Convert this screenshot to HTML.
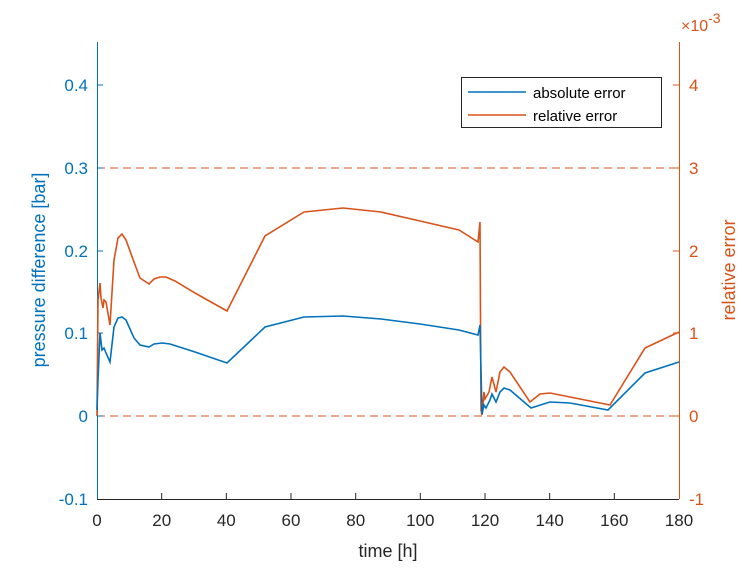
<!DOCTYPE html><html><head><style>body{margin:0;background:#fff}</style></head><body>
<svg width="751" height="564" xmlns="http://www.w3.org/2000/svg" font-family="Liberation Sans, sans-serif">
<rect width="751" height="564" fill="#fff"/>
<line x1="97" y1="168" x2="679" y2="168" stroke="#D95319" stroke-dasharray="8,5"/>
<line x1="97" y1="416" x2="679" y2="416" stroke="#D95319" stroke-dasharray="8,5"/>
<line x1="97" y1="499.5" x2="679" y2="499.5" stroke="#262626"/>
<line x1="97.5" y1="42" x2="97.5" y2="499" stroke="#0072BD"/>
<line x1="679.5" y1="42" x2="679.5" y2="499" stroke="#D95319"/>
<g stroke="#0072BD"><line x1="97" y1="85" x2="103" y2="85"/><line x1="97" y1="168" x2="103" y2="168"/><line x1="97" y1="251" x2="103" y2="251"/><line x1="97" y1="333" x2="103" y2="333"/><line x1="97" y1="416" x2="103" y2="416"/></g>
<g stroke="#D95319"><line x1="673" y1="85" x2="679" y2="85"/><line x1="673" y1="168" x2="679" y2="168"/><line x1="673" y1="251" x2="679" y2="251"/><line x1="673" y1="333" x2="679" y2="333"/><line x1="673" y1="416" x2="679" y2="416"/></g>
<g stroke="#262626"><line x1="161.7" y1="499" x2="161.7" y2="493"/><line x1="226.3" y1="499" x2="226.3" y2="493"/><line x1="291" y1="499" x2="291" y2="493"/><line x1="355.7" y1="499" x2="355.7" y2="493"/><line x1="420.3" y1="499" x2="420.3" y2="493"/><line x1="485" y1="499" x2="485" y2="493"/><line x1="549.7" y1="499" x2="549.7" y2="493"/><line x1="614.3" y1="499" x2="614.3" y2="493"/></g>
<g font-size="17" fill="#0072BD" text-anchor="end"><text x="88" y="91">0.4</text><text x="88" y="174">0.3</text><text x="88" y="257">0.2</text><text x="88" y="339">0.1</text><text x="88" y="422">0</text><text x="88" y="505">-0.1</text></g>
<g font-size="17" fill="#D95319"><text x="689" y="91">4</text><text x="689" y="174">3</text><text x="689" y="257">2</text><text x="689" y="339">1</text><text x="689" y="422">0</text><text x="689" y="505">-1</text><text x="681" y="31" font-size="16">×10<tspan dy="-8" font-size="14">-3</tspan></text></g>
<g font-size="17" fill="#262626" text-anchor="middle"><text x="97" y="526">0</text><text x="161.7" y="526">20</text><text x="226.3" y="526">40</text><text x="291" y="526">60</text><text x="355.7" y="526">80</text><text x="420.3" y="526">100</text><text x="485" y="526">120</text><text x="549.7" y="526">140</text><text x="614.3" y="526">160</text><text x="679" y="526">180</text>
<text x="388" y="557" font-size="18">time [h]</text></g>
<text transform="translate(45,270) rotate(-90)" font-size="18" fill="#0072BD" text-anchor="middle">pressure difference [bar]</text>
<text transform="translate(735,270) rotate(-90)" font-size="18" fill="#D95319" text-anchor="middle">relative error</text>
<polyline fill="none" stroke="#D95319" stroke-width="1.6" points="97,416 98,300 100,283 101,298 103,308 104,300 106,302 110,325 114,260 118,238 122,234 126,240 134,262 140,278 149,284 154,279 160,277 166,277 175,281 195,293 227,311 265,236 304,212 343,208 381,212 420,221 459,230 478,242 480,222 481,410 482,415 484,392 485,399 489,392 492,377 496,392 500,372 504,367 510,372 530,402 540,394 550,393 610,405 645,348 679,332"/>
<polyline fill="none" stroke="#0072BD" stroke-width="1.6" points="97,410 98,380 100,333 102,350 104,348 106,353 110,362 114,327 118,318 122,317 126,320 134,338 140,345 149,347 154,344 162,343 170,344 195,352 227,363 265,327 304,317 343,316 381,319 420,324 459,330 478,335 480,325 481,370 482,414 484,405 486,408 490,400 492,394 496,402 500,392 504,388 510,390 531,408 550,402 570,403 608,410 645,373 679,362"/>
<rect x="461.5" y="77.5" width="200" height="50" fill="#fff" stroke="#262626"/>
<line x1="468" y1="92" x2="526" y2="92" stroke="#0072BD" stroke-width="1.6"/>
<line x1="468" y1="115" x2="526" y2="115" stroke="#D95319" stroke-width="1.6"/>
<g font-size="15" fill="#000"><text x="533" y="98">absolute error</text><text x="533" y="121">relative error</text></g>
</svg></body></html>
